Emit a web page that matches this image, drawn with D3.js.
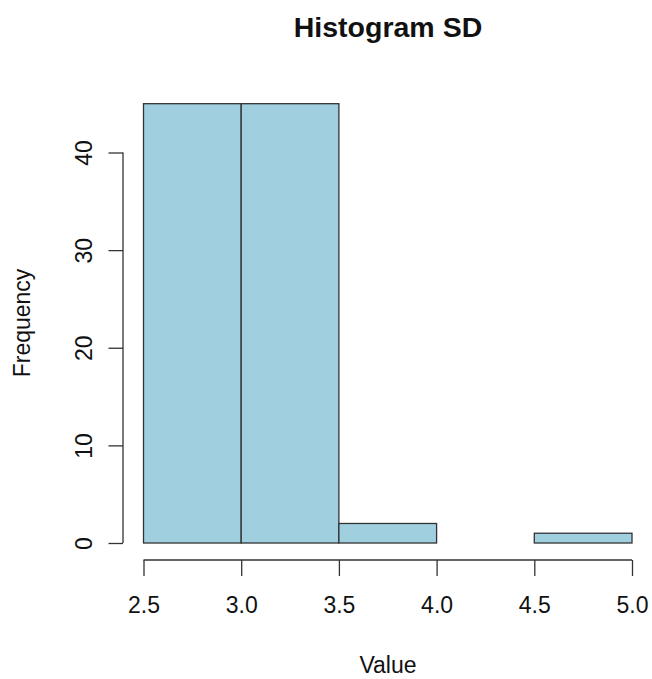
<!DOCTYPE html>
<html>
<head>
<meta charset="utf-8">
<script src="https://cdn.jsdelivr.net/npm/d3@7"></script>
<style>
  body { margin: 0; background: #fff; }
  svg { display: block; font-family: "Liberation Sans", Arial, sans-serif; }
</style>
</head>
<body>
<svg id="chart" width="652" height="679"></svg>
<script>
// Histogram bins (left edge, right edge) and their counts
const binStarts = [2.5, 3.0, 3.5, 4.0, 4.5];
const binEnds   = [3.0, 3.5, 4.0, 4.5, 5.0];
const counts    = [45, 45, 2, 0, 1];
const xTicks = [2.5, 3.0, 3.5, 4.0, 4.5, 5.0];
const yTicks = [0, 10, 20, 30, 40];

const svg = d3.select("#chart");
const x = d3.scaleLinear().domain([2.5, 5.0]).range([143.5, 632]);
const y = d3.scaleLinear().domain([0, 40]).range([543, 152.5]);

const ink = "#333";
const labelSize = 23;
const font = "Liberation Sans, Arial, sans-serif";

// bars
const bins = binStarts.map((s, i) => ({ x0: s, x1: binEnds[i], n: counts[i] }));
svg.append("g").selectAll("rect").data(bins).join("rect")
  .attr("x", d => x(d.x0))
  .attr("y", d => y(d.n))
  .attr("width", d => x(d.x1) - x(d.x0))
  .attr("height", d => y(0) - y(d.n))
  .attr("fill", "#a0cfe0")
  .attr("stroke", ink)
  .attr("stroke-width", 1.3);

// x axis
const xAxis = svg.append("g").attr("transform", "translate(0,560)")
  .call(d3.axisBottom(x).tickValues(xTicks).tickFormat(d3.format(".1f")).tickSizeOuter(0).tickSize(16));
xAxis.select(".domain").attr("stroke", ink).attr("stroke-width", 1.3)
  .attr("d", `M${x(2.5)},0H${x(5.0)}`);
xAxis.selectAll(".tick line").attr("stroke", ink).attr("stroke-width", 1.3);
xAxis.selectAll(".tick text").attr("font-size", labelSize).attr("fill", "#111")
  .attr("font-family", font)
  .attr("y", 53).attr("dy", null);

// y axis
const yAxis = svg.append("g").attr("transform", "translate(123,0)")
  .call(d3.axisLeft(y).tickValues(yTicks).tickSizeOuter(0).tickSize(14.5));
yAxis.select(".domain").attr("stroke", ink).attr("stroke-width", 1.3)
  .attr("d", `M0,${y(0)}V${y(40)}`);
yAxis.selectAll(".tick line").attr("stroke", ink).attr("stroke-width", 1.3);
yAxis.selectAll(".tick text")
  .attr("font-size", labelSize).attr("fill", "#111")
  .attr("font-family", font)
  .attr("x", null).attr("y", null).attr("dy", null)
  .attr("text-anchor", "middle")
  .attr("transform", "translate(-31,0) rotate(-90)");

// titles
svg.append("text").attr("x", 388).attr("y", 37)
  .attr("text-anchor", "middle").attr("font-size", 28.5).attr("font-weight", "bold")
  .attr("fill", "#111").text("Histogram SD");
svg.append("text").attr("x", 388).attr("y", 673)
  .attr("text-anchor", "middle").attr("font-size", labelSize).attr("fill", "#111").text("Value");
svg.append("text").attr("transform", "translate(29.5,323) rotate(-90)")
  .attr("text-anchor", "middle").attr("font-size", labelSize).attr("fill", "#111").text("Frequency");
</script>
</body>
</html>
